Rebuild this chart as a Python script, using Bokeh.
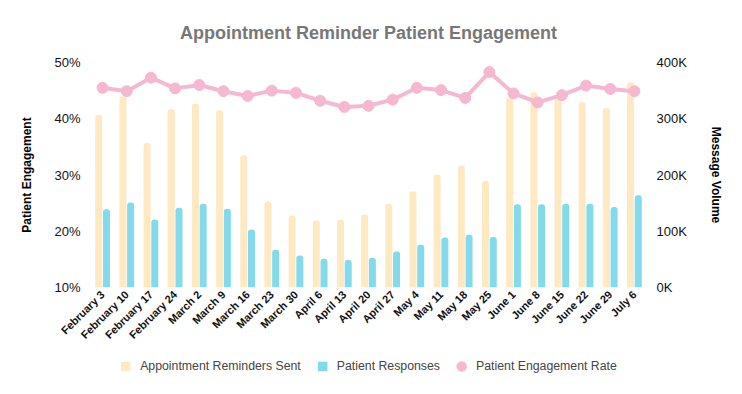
import math
from bokeh.plotting import figure
from bokeh.layouts import column
from bokeh.models import (FactorRange, Range1d, LinearAxis, FixedTicker, PrintfTickFormatter,
                          CustomJSTickFormatter, Legend, LegendItem, ColumnDataSource)
from bokeh.transform import dodge
from bokeh.embed import file_html
from bokeh.resources import INLINE

weeks = ["February 3", "February 10", "February 17", "February 24", "March 2", "March 9",
         "March 16", "March 23", "March 30", "April 6", "April 13", "April 20", "April 27",
         "May 4", "May 11", "May 18", "May 25", "June 1", "June 8", "June 15", "June 22",
         "June 29", "July 6"]
reminders_sent = [307000, 340000, 257000, 317000, 327000, 315000, 235000, 153000, 128000,
                  119000, 121000, 130000, 149000, 171000, 201000, 217000, 190000, 337000,
                  347000, 337000, 330000, 319000, 365000]
patient_responses = [139000, 151000, 121000, 142000, 149000, 140000, 103000, 67000, 57000,
                     51000, 49000, 53000, 64000, 76000, 89000, 94000, 90000, 148000,
                     148000, 149000, 149000, 143000, 164000]
engagement_rate = [45.5, 44.9, 47.3, 45.4, 46.0, 44.9, 44.05, 45.0, 44.6, 43.2, 42.1, 42.3,
                   43.4, 45.5, 45.1, 43.7, 48.3, 44.5, 42.9, 44.2, 45.9, 45.3, 44.9]
series_names = ["Appointment Reminders Sent", "Patient Responses", "Patient Engagement Rate"]
pct_ticks = [10, 20, 30, 40, 50]
vol_ticks = [0, 100000, 200000, 300000, 400000]

YELLOW = "#FFE9C3"
BLUE = "#82DAEC"
PINK = "#F6B8D0"
FONT = "Liberation Sans"

src = ColumnDataSource(dict(week=weeks, sent=reminders_sent, resp=patient_responses,
                            rate=engagement_rate))

p = figure(width=742, height=350, x_range=FactorRange(*weeks, range_padding=0),
           y_range=Range1d(10, 50), output_backend="svg", toolbar_location=None,
           min_border_left=90, min_border_right=96, min_border_top=62, min_border_bottom=63)
p.extra_y_ranges = {"vol": Range1d(0, 400000)}

p.title.text = "Appointment Reminder Patient Engagement"
p.title.align = "center"
p.title.text_font = FONT
p.title.text_font_size = "18px"
p.title.text_font_style = "bold"
p.title.text_color = "#777777"
p.title.standoff = 40

p.outline_line_color = None
p.xgrid.grid_line_color = None
p.ygrid.grid_line_color = None

p.vbar(x=dodge("week", -0.16, range=p.x_range), top="sent", width=0.29, source=src,
       y_range_name="vol", fill_color=YELLOW, line_color=None, border_radius=(3, 3, 0, 0))
p.vbar(x=dodge("week", 0.16, range=p.x_range), top="resp", width=0.29, source=src,
       y_range_name="vol", fill_color=BLUE, line_color=None, border_radius=(3, 3, 0, 0))
p.line(x="week", y="rate", source=src, line_color=PINK, line_width=4)
p.scatter(x="week", y="rate", source=src, size=11, fill_color=PINK, line_color=PINK)

# left axis
ya = p.yaxis[0]
ya.ticker = FixedTicker(ticks=pct_ticks)
ya.formatter = PrintfTickFormatter(format="%d%%")
ya.axis_label = "Patient Engagement"
ya.axis_label_standoff = 17

# right axis
ra = LinearAxis(y_range_name="vol", ticker=FixedTicker(ticks=vol_ticks),
                formatter=CustomJSTickFormatter(code="return (tick/1000).toFixed(0) + 'K';"),
                axis_label="Message Volume")
ra.axis_label_standoff = 19
p.add_layout(ra, "right")

for ax in [ya, ra]:
    ax.major_label_text_font = FONT
    ax.major_label_text_font_size = "13px"
    ax.major_label_text_color = "#111111"
    ax.major_label_standoff = 10
    ax.axis_label_text_font = FONT
    ax.axis_label_text_font_size = "12px"
    ax.axis_label_text_font_style = "bold"
    ax.axis_label_text_color = "#000000"

xa = p.xaxis[0]
xa.major_label_orientation = math.pi / 4
xa.major_label_text_font = FONT
xa.major_label_text_font_size = "11px"
xa.major_label_text_font_style = "bold"
xa.major_label_text_color = "#111111"
xa.major_label_standoff = 5

for ax in [xa, ya, ra]:
    ax.axis_line_color = None
    ax.major_tick_line_color = None
    ax.minor_tick_line_color = None
    ax.major_tick_out = 0
    ax.major_tick_in = 0

# legend strip below the chart (key glyphs sit outside the strip's visible range)
lg = figure(width=742, height=32, x_range=Range1d(0, 1), y_range=Range1d(0, 1),
            x_axis_type=None, y_axis_type=None, output_backend="svg", toolbar_location=None,
            min_border=0)
lg.outline_line_color = None
lg.grid.visible = False
k_sent = lg.quad(left=[-10], right=[-9], bottom=[-10], top=[-9], fill_color=YELLOW,
                 line_color=None, border_radius=2)
k_resp = lg.quad(left=[-10], right=[-9], bottom=[-10], top=[-9], fill_color=BLUE,
                 line_color=None, border_radius=2)
k_rate = lg.ellipse(x=[-10], y=[-10], width=12, height=12, width_units="screen",
                    height_units="screen", fill_color=PINK, line_color=PINK)

legend = Legend(items=[LegendItem(label=series_names[0], renderers=[k_sent]),
                       LegendItem(label=series_names[1], renderers=[k_resp]),
                       LegendItem(label=series_names[2], renderers=[k_rate])],
                orientation="horizontal", location="center")
legend.label_text_font = FONT
legend.label_text_font_size = "12.3px"
legend.label_text_color = "#444444"
legend.glyph_width = 12
legend.glyph_height = 12
legend.label_standoff = 9
legend.spacing = 15
legend.border_line_color = None
legend.background_fill_alpha = 0
legend.padding = 0
legend.margin = 0
lg.add_layout(legend, "center")

layout = column(p, lg, spacing=0)
open("out.html", "w").write(file_html(layout, INLINE))
